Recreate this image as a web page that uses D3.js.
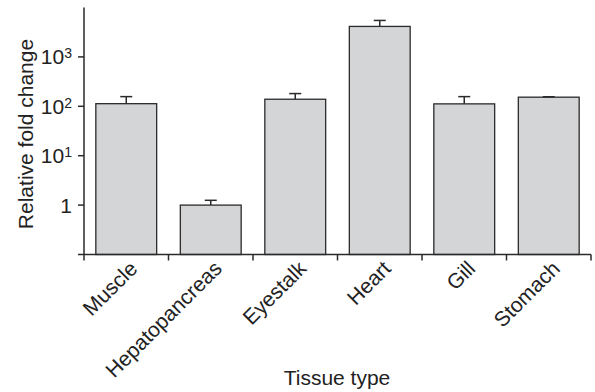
<!DOCTYPE html>
<html>
<head>
<meta charset="utf-8">
<script src="https://cdn.jsdelivr.net/npm/d3@7"></script>
<style>
  body { margin: 0; background: #fff; }
  text { font-family: "Liberation Sans", Arial, sans-serif; fill: #222; }
</style>
</head>
<body>
<svg id="chart" width="595" height="392"></svg>
<script>
// data
var tissues = ["Muscle", "Hepatopancreas", "Eyestalk", "Heart", "Gill", "Stomach"];
var foldChange = [113, 1.0, 139, 4140, 112, 153];
var errorTop = [157, 1.25, 181, 5470, 157, 156];
var tickValues = [1, 10, 100, 1000];
var tickLabels = [["1", ""], ["10", "1"], ["10", "2"], ["10", "3"]];

var svg = d3.select("#chart");
var mLeft = 84, mRight = 591, mTop = 7.5, mBottom = 254.5;

var x = d3.scaleBand().domain(tissues).range([mLeft, mRight]).paddingInner(0.28).paddingOuter(0.14);
var y = d3.scaleLog().domain([0.1, 10000]).range([mBottom, mTop]);

var fg = "#2a2a2a";

// bars
svg.selectAll("rect.bar")
  .data(tissues)
  .enter().append("rect")
  .attr("class", "bar")
  .attr("x", function(d) { return x(d); })
  .attr("width", x.bandwidth())
  .attr("y", function(d, i) { return y(foldChange[i]); })
  .attr("height", function(d, i) { return mBottom - y(foldChange[i]); })
  .style("fill", "#d4d5d7")
  .style("stroke", fg)
  .style("stroke-width", 1.3);

// error bars (upper only)
var eb = svg.selectAll("g.err").data(tissues).enter().append("g").attr("class", "err");
eb.append("line")
  .attr("x1", function(d) { return x(d) + x.bandwidth() / 2; })
  .attr("x2", function(d) { return x(d) + x.bandwidth() / 2; })
  .attr("y1", function(d, i) { return y(foldChange[i]); })
  .attr("y2", function(d, i) { return y(errorTop[i]); })
  .style("stroke", fg).style("stroke-width", 1.5);
eb.append("line")
  .attr("x1", function(d) { return x(d) + x.bandwidth() / 2 - 6; })
  .attr("x2", function(d) { return x(d) + x.bandwidth() / 2 + 6; })
  .attr("y1", function(d, i) { return y(errorTop[i]); })
  .attr("y2", function(d, i) { return y(errorTop[i]); })
  .style("stroke", fg).style("stroke-width", 1.5);

// y axis
svg.append("line")
  .attr("x1", mLeft).attr("x2", mLeft).attr("y1", mTop).attr("y2", mBottom)
  .style("stroke", fg).style("stroke-width", 1.5);
var yt = svg.selectAll("g.ytick").data(tickValues).enter().append("g").attr("class", "ytick")
  .attr("transform", function(d) { return "translate(0," + y(d) + ")"; });
yt.append("line").attr("x1", mLeft - 6).attr("x2", mLeft).style("stroke", fg).style("stroke-width", 1.5);
var yl = yt.append("text")
  .attr("x", 72).attr("dy", "0.36em")
  .attr("text-anchor", "end")
  .style("font-size", "21px");
yl.append("tspan").text(function(d, i) { return tickLabels[i][0]; });
yl.append("tspan").attr("dy", "-0.45em").style("font-size", "14px")
  .text(function(d, i) { return tickLabels[i][1]; });

// x axis with ticks at category boundaries
svg.append("line")
  .attr("x1", mLeft - 6).attr("x2", mRight).attr("y1", mBottom).attr("y2", mBottom)
  .style("stroke", fg).style("stroke-width", 1.5);
var bounds = d3.range(tissues.length + 1).map(function(i) { return mLeft + i * (mRight - mLeft) / tissues.length; });
svg.selectAll("line.xtick").data(bounds).enter().append("line")
  .attr("class", "xtick")
  .attr("x1", function(d) { return d; }).attr("x2", function(d) { return d; })
  .attr("y1", mBottom).attr("y2", mBottom + 6)
  .style("stroke", fg).style("stroke-width", 1.5);

svg.selectAll("text.xlab").data(tissues).enter().append("text")
  .attr("class", "xlab")
  .attr("text-anchor", "end")
  .attr("transform", function(d) {
    return "translate(" + (x(d) + x.bandwidth() / 2 + 2) + "," + (mBottom + 5) + ") rotate(-45)";
  })
  .attr("dy", "0.7em")
  .style("font-size", "21px")
  .text(function(d) { return d; });

// axis titles
svg.append("text")
  .attr("transform", "translate(33,134) rotate(-90)")
  .attr("text-anchor", "middle")
  .style("font-size", "21px")
  .text("Relative fold change");
svg.append("text")
  .attr("x", 337).attr("y", 385)
  .attr("text-anchor", "middle")
  .style("font-size", "21px")
  .text("Tissue type");
</script>
</body>
</html>
